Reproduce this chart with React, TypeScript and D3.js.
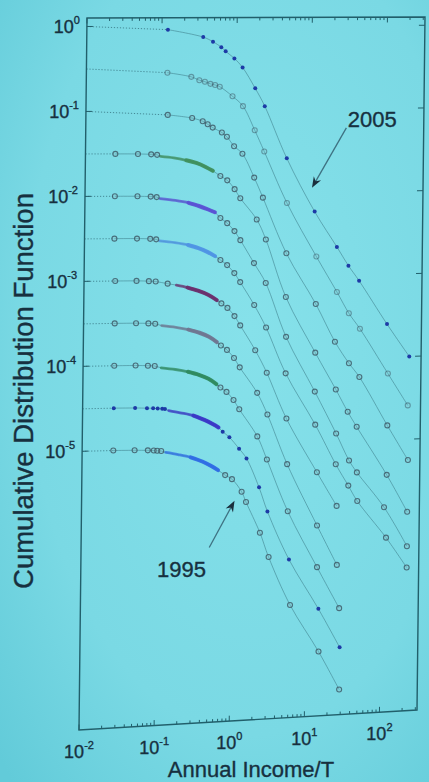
import React from 'react';
import * as d3 from 'd3';

// Income distribution CDFs, one curve per year, each shifted down half a decade.
// Values are [income / T, cumulative fraction].
const years = [2005, 2004, 2003, 2002, 2001, 2000, 1999, 1998, 1997, 1996, 1995];

const s2005 = [[0.12, 0.91], [0.355, 0.74], [0.48, 0.65], [0.62, 0.56], [0.71, 0.5], [0.93, 0.41], [1.2, 0.32], [1.78, 0.18], [2.4, 0.11], [4.8, 0.026], [11.5, 5.9e-3], [23, 2.2e-3], [33, 1.3e-3], [46, 8.5e-4], [110, 2.5e-4], [220, 1.0e-4]];
const s2004 = [[0.12, 0.89], [0.25, 0.79], [0.32, 0.72], [0.38, 0.69], [0.45, 0.65], [0.52, 0.63], [0.6, 0.6], [0.89, 0.46], [1.23, 0.35], [1.78, 0.18], [2.4, 0.1], [4.9, 0.024], [12.3, 5.4e-3], [23.4, 2.0e-3], [34, 1.1e-3], [48, 7.1e-4], [115, 2.0e-4], [214, 8.1e-5]];
const s2003 = [[0.123, 0.89], [0.26, 0.81], [0.36, 0.74], [0.42, 0.68], [0.49, 0.62], [0.65, 0.54], [0.76, 0.48], [0.95, 0.37], [1.23, 0.3], [1.78, 0.155], [2.34, 0.089], [4.9, 0.019], [12.3, 4.6e-3], [22.4, 1.6e-3], [34.7, 8.7e-4], [48, 5.9e-4], [115, 1.5e-4], [219, 5.6e-5]];
const s2002 = [[0.025, 0.99], [0.05, 0.98], [0.075, 0.965], [0.09, 0.95], [0.63, 0.52], [0.78, 0.46], [0.98, 0.36], [1.17, 0.28], [1.95, 0.155], [2.6, 0.089], [4.9, 0.018], [12.3, 3.8e-3], [23.4, 1.35e-3], [34, 7.2e-4], [45, 4.7e-4], [115, 1.2e-4], [218, 4.2e-5]];
const s2001 = [[0.025, 0.99], [0.05, 0.98], [0.075, 0.965], [0.09, 0.95], [0.64, 0.52], [0.79, 0.45], [0.99, 0.36], [1.19, 0.28], [1.82, 0.148], [2.63, 0.085], [5.0, 0.019], [12.3, 4.1e-3], [24, 1.26e-3], [36, 5.9e-4], [46, 4.2e-4], [107, 1.55e-4], [219, 5.1e-5]];
const s2000 = [[0.025, 0.99], [0.05, 0.98], [0.075, 0.965], [0.09, 0.95], [0.65, 0.52], [0.8, 0.45], [1.0, 0.36], [1.2, 0.28], [1.86, 0.148], [2.7, 0.079], [5.0, 0.022], [12.6, 5.2e-3], [24, 1.7e-3], [35.5, 9.3e-4], [47, 6.0e-4], [115, 2.1e-4], [219, 8.9e-5]];
const s1999 = [[0.026, 0.99], [0.05, 0.98], [0.073, 0.965], [0.09, 0.95], [0.13, 0.89], [0.68, 0.5], [0.82, 0.44], [1.02, 0.35], [1.22, 0.27], [1.95, 0.135], [2.8, 0.072], [5.2, 0.02], [13.5, 4.4e-3], [25, 1.7e-3]];
const s1998 = [[0.026, 0.99], [0.05, 0.98], [0.073, 0.965], [0.09, 0.95], [0.68, 0.5], [0.82, 0.44], [1.02, 0.35], [1.22, 0.27], [2.1, 0.132], [2.9, 0.072], [5.4, 0.018], [13.8, 3.2e-3], [25.7, 1.05e-3]];
const s1997 = [[0.026, 0.99], [0.05, 0.98], [0.073, 0.965], [0.09, 0.95], [0.68, 0.5], [0.82, 0.44], [1.02, 0.35], [1.22, 0.27], [2.14, 0.126], [2.9, 0.066], [5.6, 0.0155], [14, 3.2e-3], [28, 1.0e-3]];
const s1996 = [[0.026, 0.99], [0.05, 0.975], [0.072, 0.96], [0.087, 0.95], [0.1, 0.94], [0.115, 0.93], [0.125, 0.92], [0.74, 0.47], [0.91, 0.4], [1.23, 0.29], [1.55, 0.22], [2.3, 0.098], [3.0, 0.05], [5.9, 0.013], [14.8, 3.2e-3], [28.8, 1.07e-3]];
const s1995 = [[0.026, 0.99], [0.05, 0.975], [0.075, 0.96], [0.09, 0.95], [0.1, 0.94], [0.113, 0.93], [0.81, 0.45], [1.0, 0.4], [1.35, 0.28], [1.55, 0.21], [2.4, 0.089], [3.16, 0.045], [6.2, 0.0117], [15.1, 3.1e-3], [28.8, 1.05e-3]];

// dense stretches where the markers merge into a solid band
const band2002 = [[0.1, 0.91], [0.15, 0.87], [0.22, 0.81], [0.3, 0.75], [0.4, 0.67], [0.5, 0.6]];
const band2001 = [[0.1, 0.91], [0.16, 0.86], [0.24, 0.8], [0.33, 0.73], [0.44, 0.66], [0.54, 0.61]];
const band2000 = [[0.1, 0.91], [0.16, 0.86], [0.24, 0.8], [0.33, 0.73], [0.44, 0.65], [0.55, 0.58]];
const band1999 = [[0.17, 0.85], [0.24, 0.79], [0.33, 0.72], [0.45, 0.64], [0.59, 0.55]];
const band1998 = [[0.11, 0.9], [0.17, 0.85], [0.25, 0.79], [0.35, 0.72], [0.47, 0.64], [0.6, 0.55]];
const band1997 = [[0.11, 0.9], [0.17, 0.85], [0.25, 0.79], [0.35, 0.72], [0.47, 0.64], [0.6, 0.55]];
const band1996 = [[0.14, 0.88], [0.2, 0.82], [0.3, 0.75], [0.42, 0.66], [0.55, 0.58], [0.65, 0.53]];
const band1995 = [[0.13, 0.89], [0.19, 0.83], [0.28, 0.76], [0.4, 0.67], [0.52, 0.59], [0.65, 0.52]];

const pointsByYear = [s2005, s2004, s2003, s2002, s2001, s2000, s1999, s1998, s1997, s1996, s1995];
const bandsByYear = [[], [], [], band2002, band2001, band2000, band1999, band1998, band1997, band1996, band1995];

const xTickExp = [-2, -1, 0, 1, 2];
const yTickExp = [0, -1, -2, -3, -4, -5];

// arrow annotations, in plotted (already shifted) coordinates
const notes = [
  { label: '2005', at: [65, 0.075], from: [29.5, 0.059], to: [10.5, 0.0114] },
  { label: '1995', at: [0.22, 3.6e-7], from: [0.51, 6.3e-7], to: [1.09, 2.2e-6] },
];

// styling
const markerKind = ['dot', 'o', 'o', 'o', 'o', 'o', 'o', 'o', 'o', 'dot', 'o'];
const bandColor = ['', '', '', '#3f8f5c', '#5a50d4', '#4f93e4', '#6a2d6c', '#6f7590', '#2f8a5e', '#3a36c6', '#2f6ce4'];

const W = 429;
const H = 782;
const INK = '#17303f';
const AXIS = '#215f6b';
const FONT = '"Liberation Sans", Arial, sans-serif';

// the slide was photographed at an angle: the plot box is a quadrilateral
const box = { tl: [87, 18], tr: [425, 17], bl: [79, 730], br: [417, 710] };
const proj = (u: number, v: number): [number, number] => [
  (1 - v) * (box.tl[0] + u * (box.tr[0] - box.tl[0])) + v * (box.bl[0] + u * (box.br[0] - box.bl[0])),
  (1 - u) * (box.tl[1] + v * (box.bl[1] - box.tl[1])) + u * (box.tr[1] + v * (box.br[1] - box.tr[1])),
];

const x = d3.scaleLog().domain([1e-2, Math.pow(10, 2.5)]).range([0, 1]);
const y = d3.scaleLog().domain([Math.pow(10, 0.1), Math.pow(10, -8.28)]).range([0, 1]);
const P = (a: number, b: number) => proj(x(a), y(b));

const line = d3.line().curve(d3.curveCatmullRom.alpha(0.5));

function Arrow({ from, to }: { from: number[]; to: number[] }) {
  const [x1, y1] = P(from[0], from[1]);
  const [x2, y2] = P(to[0], to[1]);
  const len = Math.hypot(x2 - x1, y2 - y1);
  const dx = (x2 - x1) / len;
  const dy = (y2 - y1) / len;
  const L = 11;
  const w = 4.2;
  const bx = x2 - dx * L;
  const by = y2 - dy * L;
  const head = [
    [x2, y2],
    [bx - dy * w, by + dx * w],
    [x2 - dx * L * 0.68, y2 - dy * L * 0.68],
    [bx + dy * w, by - dx * w],
  ];
  return (
    <g>
      <line x1={x1} y1={y1} x2={x2 - dx * 6} y2={y2 - dy * 6} stroke="#3e7282" strokeWidth={1.3} />
      <path d={'M' + head.map((p) => p.join(',')).join('L') + 'Z'} fill="#1a2f3d" />
    </g>
  );
}

export default function App() {
  const ticks = x.ticks();
  const isMajor = (t: number) => Math.abs(Math.log10(t) - Math.round(Math.log10(t))) < 1e-6;
  const corners = [proj(0, 0), proj(1, 0), proj(1, 1), proj(0, 1)];
  const textInk = { fill: INK, stroke: INK, strokeWidth: 0.35 };

  return (
    <svg
      width={W}
      height={H}
      viewBox={`0 0 ${W} ${H}`}
      style={{ position: 'absolute', left: 0, top: 0 }}
      fontFamily={FONT}
    >
      <defs>
        <radialGradient id="screen" cx="58%" cy="42%" r="80%">
          <stop offset="0%" stopColor="#86e1ea" />
          <stop offset="65%" stopColor="#7ad9e4" />
          <stop offset="100%" stopColor="#62cbd9" />
        </radialGradient>
      </defs>
      <rect width={W} height={H} fill="url(#screen)" />

      {years.map((yr, k) => {
        const shift = Math.pow(10, -0.5 * k);
        const pts = pointsByYear[k].map(([a, c]) => [a, c * shift]);
        const band = bandsByYear[k].map(([a, c]) => [a, c * shift]);
        const all = [...pts, ...band].sort((p, q) => p[0] - q[0]);
        const start = P(1e-2, shift);
        const first = P(all[0][0], all[0][1]);
        const fit = line(all.map(([a, c]) => P(a, c)));
        return (
          <g key={'fit' + yr}>
            <line x1={start[0]} y1={start[1]} x2={first[0]} y2={first[1]} stroke="#3c7d8a" strokeWidth={1} strokeDasharray="1.2 1.8" opacity={0.85} />
            <path d={fit || ''} fill="none" stroke="#3c7d8a" strokeWidth={0.75} opacity={0.75} />
          </g>
        );
      })}

      {years.map((yr, k) => {
        const shift = Math.pow(10, -0.5 * k);
        const band = bandsByYear[k].map(([a, c]) => P(a, c * shift));
        if (!band.length) return null;
        return (
          <g key={'band' + yr} fill="none" stroke={bandColor[k]} strokeLinecap="round">
            <path d={line(band) || ''} strokeWidth={2.8} opacity={0.75} />
            <path d={line(band.slice(-4)) || ''} strokeWidth={4} opacity={0.9} />
          </g>
        );
      })}

      {years.map((yr, k) => {
        const shift = Math.pow(10, -0.5 * k);
        return (
          <g key={'pts' + yr}>
            {pointsByYear[k].map(([a, c], i) => {
              const [px, py] = P(a, c * shift);
              return markerKind[k] === 'dot' ? (
                <circle key={i} cx={px} cy={py} r={2} fill="#1d3aa6" />
              ) : (
                <circle key={i} cx={px} cy={py} r={2.5} fill="#8fbcc4" fillOpacity={0.35} stroke="#3b5563" strokeWidth={1.1} opacity={k === 1 ? 0.5 : 0.8} />
              );
            })}
          </g>
        );
      })}

      <path d={'M' + corners.map((p) => p.join(',')).join('L') + 'Z'} fill="none" stroke={AXIS} strokeWidth={1.4} />

      {ticks.map((t, i) => {
        const u = x(t);
        const len = isMajor(t) ? 5.5 : 3;
        const b0 = proj(u, 1);
        const b1 = proj(u, 1 - len / 712);
        const t0 = proj(u, 0);
        const t1 = proj(u, len / 712);
        return (
          <g key={'xt' + i} stroke={AXIS} strokeWidth={1}>
            <line x1={b0[0]} y1={b0[1]} x2={b1[0]} y2={b1[1]} />
            <line x1={t0[0]} y1={t0[1]} x2={t1[0]} y2={t1[1]} />
          </g>
        );
      })}

      {yTickExp.map((e) => {
        const v = y(Math.pow(10, e));
        const l0 = proj(0, v);
        const l1 = proj(6 / 338, v);
        const r0 = proj(1, v);
        const r1 = proj(1 - 6 / 338, v);
        return (
          <g key={'yt' + e}>
            <line x1={l0[0]} y1={l0[1]} x2={l1[0]} y2={l1[1]} stroke={AXIS} strokeWidth={1} />
            <line x1={r0[0]} y1={r0[1]} x2={r1[0]} y2={r1[1]} stroke={AXIS} strokeWidth={1} />
            <text x={l0[0] - 7} y={l0[1] + 7} textAnchor="end" fontSize={18} {...textInk}>
              10<tspan dy={-9} fontSize={11}>{e}</tspan>
            </text>
          </g>
        );
      })}

      {xTickExp.map((e) => {
        const [bx, by] = proj(x(Math.pow(10, e)), 1);
        return (
          <text key={'xl' + e} x={bx} y={by + 28} textAnchor="middle" fontSize={18} {...textInk}>
            10<tspan dy={-9} fontSize={11}>{e}</tspan>
          </text>
        );
      })}

      <text x={251} y={777} textAnchor="middle" fontSize={22} {...textInk}>
        Annual Income/T
      </text>
      <text transform="translate(33,391) rotate(-90)" textAnchor="middle" fontSize={27.5} {...textInk}>
        Cumulative Distribution Function
      </text>

      {notes.map((n) => {
        const [tx, ty] = P(n.at[0], n.at[1]);
        return (
          <g key={n.label}>
            <Arrow from={n.from} to={n.to} />
            <text x={tx} y={ty + 8} textAnchor="middle" fontSize={22} {...textInk}>
              {n.label}
            </text>
          </g>
        );
      })}
    </svg>
  );
}
